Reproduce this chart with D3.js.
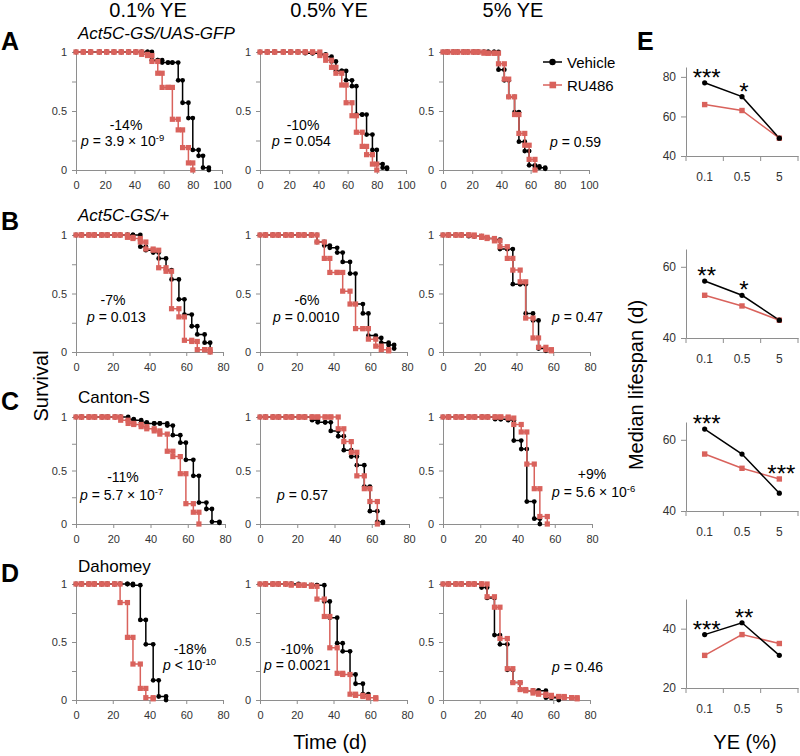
<!DOCTYPE html>
<html lang="en">
<head>
<meta charset="UTF-8">
<title>Survival and median lifespan</title>
<script src="https://d3js.org/d3.v7.min.js"></script>
<style>
  body { margin: 0; background: #fff; }
  svg { font-family: Arial, "Liberation Sans", sans-serif; }
</style>
</head>
<body>
<svg width="800" height="756"></svg>
<script>
// census days (row A low/mid YE used a sparser schedule)
var days  = [0,3,7,10,14,17,21,24,28,31,35,38,42,45,49,52,56,59,63,66,70,73,77,80];
var daysA = [0,5,10,16,21,26,31,36,41,45,49,52,56,59,63,66,70,73,77,80,84,87,91];

var ye = ['0.1', '0.5', '5'];
var colTitles = ['0.1% YE', '0.5% YE', '5% YE'];
var strains = ['Act5C-GS/UAS-GFP', 'Act5C-GS/+', 'Canton-S', 'Dahomey'];
var rowLetters = ['A', 'B', 'C', 'D'];

// survival, vehicle vs RU486
var vehA1 = [1,1,1,1,1,1,1,1,1,1,1,0.93,0.93,0.91,0.91,0.91,0.76,0.57,0.44,0.17,0.12,0.02,0];
var ruA1  = [1,1,1,1,1,1,1,1,1,0.98,0.97,0.92,0.82,0.7,0.7,0.43,0.34,0.19,0.06,0];
var vehA2 = [1,1,1,1,1,1,0.99,0.99,0.98,0.96,0.92,0.84,0.84,0.76,0.71,0.47,0.47,0.3,0.17,0.05,0.02,0.01];
var ruA2  = [1,1,1,1,1,1,1,1,0.97,0.93,0.87,0.82,0.72,0.57,0.46,0.32,0.2,0.13,0.05,0];
var vehA3 = [1,1,1,1,1,1,1,1,1,1,1,0.85,0.76,0.62,0.49,0.24,0.16,0.04,0.03,0.02,0.01];
var ruA3  = [1,1,1,1,1,1,1,1,0.99,0.99,0.99,0.9,0.77,0.62,0.47,0.31,0.21,0.09,0];

var vehB1 = [1,1,1,1,1,1,1,1,1,1,0.9,0.87,0.85,0.8,0.7,0.62,0.45,0.32,0.22,0.15,0.08,0];
var ruB1  = [1,1,1,1,1,1,1,1,0.98,0.97,0.94,0.88,0.87,0.72,0.69,0.37,0.3,0.1,0.09,0.02,0.02,0];
var vehB2 = [1,1,1,1,1,1,1,1,1,0.94,0.91,0.89,0.85,0.77,0.67,0.41,0.33,0.14,0.12,0.08,0.06,0.03];
var ruB2  = [1,1,1,1,1,1,1,1,1,0.94,0.8,0.68,0.68,0.52,0.41,0.2,0.2,0.11,0.05,0.02,0.01];
var vehB3 = [1,1,1,1,0.99,0.99,0.98,0.97,0.96,0.88,0.88,0.58,0.58,0.33,0.27,0.03,0.01];
var ruB3  = [1,1,1,1,1,0.99,0.98,0.97,0.95,0.9,0.8,0.7,0.6,0.29,0.12,0.04,0.02,0.01];

var vehC1 = [1,1,1,1,1,1,1,1,0.98,0.97,0.95,0.94,0.94,0.94,0.92,0.83,0.76,0.6,0.45,0.2,0.14,0.02,0.01];
var ruC1  = [1,1,1,1,1,1,1,0.97,0.94,0.93,0.91,0.89,0.87,0.84,0.68,0.63,0.47,0.19,0.11,0];
var vehC2 = [1,1,1,1,1,1,1,1,0.97,0.95,0.95,0.87,0.82,0.69,0.63,0.55,0.35,0.12,0.02,0.01];
var ruC2  = [1,1,1,1,1,1,1,1,1,1,1,1,0.89,0.77,0.67,0.45,0.33,0.21,0];
var vehC3 = [1,1,1,1,1,1,1,1,0.98,0.98,0.97,0.78,0.7,0.21,0.05,0];
var ruC3  = [1,1,1,1,1,1,1,1,1,1,0.99,0.93,0.86,0.56,0.33,0.07,0];

var vehD1 = [1,1,1,1,1,1,1,1,1,0.99,0.69,0.48,0.17,0.03,0];
var ruD1  = [1,1,1,1,1,1,1,0.84,0.54,0.31,0.1,0.02,0.01];
var vehD2 = [1,1,1,1,1,1,0.99,0.99,0.99,0.99,0.85,0.71,0.49,0.42,0.22,0.14,0.05,0.02];
var ruD2  = [1,1,1,1,1,0.99,0.99,0.99,0.98,0.87,0.72,0.45,0.23,0.22,0.05,0.04,0.03,0.02,0.01];
var vehD3 = [1,1,1,1,1,1,0.97,0.88,0.56,0.48,0.26,0.15,0.09,0.08,0.08,0.08,0.02,0.02,0];
var ruD3  = [1,1,1,1,1,1,1,0.89,0.8,0.53,0.27,0.15,0.09,0.08,0.06,0.05,0.04,0.03,0.03,0.02,0.02,0.01];

// change in median + log-rank p per panel (A1..D3)
var pctText = ['-14%','-10%','', '-7%','-6%','', '-11%','','+9%', '-18%','-10%',''];
var pText = ['= 3.9 × 10^-9','= 0.054','= 0.59',
             '= 0.013','= 0.0010','= 0.47',
             '= 5.7 × 10^-7','= 0.57','= 5.6 × 10^-6',
             '< 10^-10','= 0.0021','= 0.46'];

// panel E: median lifespan (d)
var medVehA = [77,70,49], medRuA = [66,63,49], sigA = ['***','*',''];
var medVehB = [56,52,45], medRuB = [52,49,45], sigB = ['**','*',''];
var medVehC = [63,56,45], medRuC = [56,52,49], sigC = ['***','','***'];
var medVehD = [38,42,31], medRuD = [31,38,35], sigD = ['***','**',''];
var eDomains = [[40,85],[40,65],[40,65],[20,50]];
var eTicks = [[40,60,80],[40,60],[40,60],[20,40]];

var RED = '#d9625c', AX = '#8e8e8e';
var svg = d3.select('svg');

// layout
var colX = [76, 260, 443];
var rowY = [[52,170],[235,352],[417,524],[584,700]];
var rowW = [146, 147, 149, 147];
var annPos = [
  [126,130,81,146], [303,130,272,146], [0,0,550,147],
  [113,305,87,322], [307,305,273,322], [0,0,552,322],
  [123,482,80,500], [0,0,277,500], [592,479,552,497],
  [190,654,163,670], [297,654,264,670], [0,0,552,672]
];

var survVeh = [vehA1,vehA2,vehA3,vehB1,vehB2,vehB3,vehC1,vehC2,vehC3,vehD1,vehD2,vehD3];
var survRu  = [ruA1,ruA2,ruA3,ruB1,ruB2,ruB3,ruC1,ruC2,ruC3,ruD1,ruD2,ruD3];

function styleAxis(a) {
  a.select('.domain').attr('stroke', AX);
  a.selectAll('.tick line').attr('stroke', AX);
  a.selectAll('.tick text').attr('fill', '#333').attr('font-size', 11);
}

function drawCurve(g, x, y, t, s, isRu) {
  var pts = s.map(function(v, i) { return [t[i], v]; });
  var color = isRu ? RED : '#000';
  g.append('path').datum(pts)
    .attr('fill', 'none').attr('stroke', color).attr('stroke-width', 1.5)
    .attr('d', d3.line().x(function(d) { return x(d[0]); }).y(function(d) { return y(d[1]); }).curve(d3.curveStepAfter));
  var marks = [];
  pts.forEach(function(p, i) {
    marks.push(p);
    if (i < pts.length - 1) marks.push([pts[i + 1][0], p[1]]);
  });
  if (isRu) {
    g.selectAll(null).data(marks).enter().append('rect')
      .attr('x', function(d) { return x(d[0]) - 2.6; }).attr('y', function(d) { return y(d[1]) - 2.6; })
      .attr('width', 5.2).attr('height', 5.2).attr('fill', RED);
  } else {
    g.selectAll(null).data(marks).enter().append('circle')
      .attr('cx', function(d) { return x(d[0]); }).attr('cy', function(d) { return y(d[1]); })
      .attr('r', 2.4).attr('fill', '#000');
  }
}

function pLabel(x0, y0, str) {
  var t = svg.append('text').attr('x', x0).attr('y', y0).attr('font-size', 14).attr('fill', '#000');
  t.append('tspan').attr('font-style', 'italic').text('p');
  var parts = str.split('^');
  t.append('tspan').text(' ' + parts[0]);
  if (parts[1]) t.append('tspan').attr('font-size', 9.5).attr('dy', -5.5).text(parts[1]);
}

for (var k = 0; k < 12; k++) {
  var r = Math.floor(k / 3), c = k % 3;
  var xMax = r === 0 ? 100 : 80;
  var t = (r === 0 && c < 2) ? daysA : days;
  var x = d3.scaleLinear().domain([0, xMax]).range([colX[c], colX[c] + rowW[r]]);
  var y = d3.scaleLinear().domain([0, 1]).range([rowY[r][1], rowY[r][0]]);
  var g = svg.append('g');

  var ax = g.append('g').attr('transform', 'translate(0,' + rowY[r][1] + ')')
    .call(d3.axisBottom(x).tickValues(d3.range(0, xMax + 1, 20)).tickSize(4).tickSizeOuter(0).tickPadding(7));
  styleAxis(ax);
  var ay = g.append('g').attr('transform', 'translate(' + colX[c] + ',0)')
    .call(d3.axisLeft(y).tickValues([0, 0.25, 0.5, 0.75, 1])
      .tickFormat(function(d) { return (d === 0.25 || d === 0.75) ? '' : d; })
      .tickSize(4).tickSizeOuter(0).tickPadding(5));
  styleAxis(ay);

  drawCurve(g, x, y, t, survVeh[k], false);
  drawCurve(g, x, y, t, survRu[k], true);

  var a = annPos[k];
  if (pctText[k]) {
    svg.append('text').attr('x', a[0]).attr('y', a[1]).attr('text-anchor', 'middle')
      .attr('font-size', 14).text(pctText[k]);
  }
  pLabel(a[2], a[3], pText[k]);
}

// column titles
var titleX = [148, 329, 513];
colTitles.forEach(function(s, i) {
  svg.append('text').attr('x', titleX[i]).attr('y', 17).attr('text-anchor', 'middle')
    .attr('font-size', 20).text(s);
});

// row letters + strain names
var letterY = [50, 230, 410, 582];
var strainY = [39, 221, 403, 572];
rowLetters.forEach(function(s, i) {
  svg.append('text').attr('x', 1).attr('y', letterY[i]).attr('font-size', 25).attr('font-weight', 'bold').text(s);
  svg.append('text').attr('x', 78).attr('y', strainY[i]).attr('font-size', 17)
    .attr('font-style', i < 2 ? 'italic' : 'normal').text(strains[i]);
});
svg.append('text').attr('x', 637).attr('y', 50).attr('font-size', 25).attr('font-weight', 'bold').text('E');

// legend
var lg = svg.append('g');
[['Vehicle', '#000', 62], ['RU486', RED, 85]].forEach(function(d, i) {
  lg.append('line').attr('x1', 543).attr('x2', 562).attr('y1', d[2]).attr('y2', d[2])
    .attr('stroke', d[1]).attr('stroke-width', 1.5);
  if (i === 0) lg.append('circle').attr('cx', 552.5).attr('cy', d[2]).attr('r', 3.2).attr('fill', d[1]);
  else lg.append('rect').attr('x', 549.5).attr('y', d[2] - 3.3).attr('width', 6.6).attr('height', 6.6).attr('fill', d[1]);
  lg.append('text').attr('x', 567).attr('y', d[2] + 5.5).attr('font-size', 15).text(d[0]);
});

// axis titles
svg.append('text').attr('transform', 'translate(48,386) rotate(-90)').attr('text-anchor', 'middle')
  .attr('font-size', 20).text('Survival');
svg.append('text').attr('x', 330).attr('y', 749).attr('text-anchor', 'middle').attr('font-size', 20).text('Time (d)');
svg.append('text').attr('transform', 'translate(643,385) rotate(-90)').attr('text-anchor', 'middle')
  .attr('font-size', 20).text('Median lifespan (d)');
svg.append('text').attr('x', 745).attr('y', 749).attr('text-anchor', 'middle').attr('font-size', 20).text('YE (%)');

// panel E
var eVeh = [medVehA, medVehB, medVehC, medVehD];
var eRu = [medRuA, medRuB, medRuC, medRuD];
var eSig = [sigA, sigB, sigC, sigD];
var eBottom = [156, 338, 511, 688];
var eH = 89;

eVeh.forEach(function(vals, k) {
  var xb = d3.scaleBand().domain(ye).range([686, 798]);
  var y = d3.scaleLinear().domain(eDomains[k]).range([eBottom[k], eBottom[k] - eH]);
  var g = svg.append('g');
  var cx = function(d, i) { return xb(ye[i]) + xb.bandwidth() / 2; };

  var ax = g.append('g').attr('transform', 'translate(0,' + eBottom[k] + ')')
    .call(d3.axisBottom(xb).tickSize(0).tickSizeOuter(0).tickPadding(16));
  styleAxis(ax);
  ax.selectAll('.tick text').attr('font-size', 12);
  g.selectAll(null).data(d3.range(ye.length + 1)).enter().append('line')
    .attr('x1', function(i) { return 686 + i * xb.step(); })
    .attr('x2', function(i) { return 686 + i * xb.step(); })
    .attr('y1', eBottom[k]).attr('y2', eBottom[k] + 5).attr('stroke', AX);

  var ay = g.append('g').attr('transform', 'translate(686,0)')
    .call(d3.axisLeft(y).tickValues(eTicks[k]).tickSize(5).tickSizeOuter(0).tickPadding(5));
  styleAxis(ay);
  ay.selectAll('.tick text').attr('font-size', 12);

  var line = d3.line().x(cx).y(function(d) { return y(d); });
  g.append('path').datum(eRu[k]).attr('fill', 'none').attr('stroke', RED).attr('stroke-width', 1.5).attr('d', line);
  g.append('path').datum(vals).attr('fill', 'none').attr('stroke', '#000').attr('stroke-width', 1.5).attr('d', line);
  g.selectAll(null).data(eRu[k]).enter().append('rect')
    .attr('x', function(d, i) { return cx(d, i) - 2.7; }).attr('y', function(d) { return y(d) - 2.7; })
    .attr('width', 5.4).attr('height', 5.4).attr('fill', RED);
  g.selectAll(null).data(vals).enter().append('circle')
    .attr('cx', cx).attr('cy', function(d) { return y(d); }).attr('r', 2.6).attr('fill', '#000');

  g.selectAll(null).data(eSig[k]).enter().append('text')
    .attr('x', function(d, i) { return cx(d, i) + 2; })
    .attr('y', function(d, i) { return y(Math.max(vals[i], eRu[k][i])) + 3; })
    .attr('text-anchor', 'middle').attr('font-size', 24).text(function(d) { return d; });
});
</script>
</body>
</html>
